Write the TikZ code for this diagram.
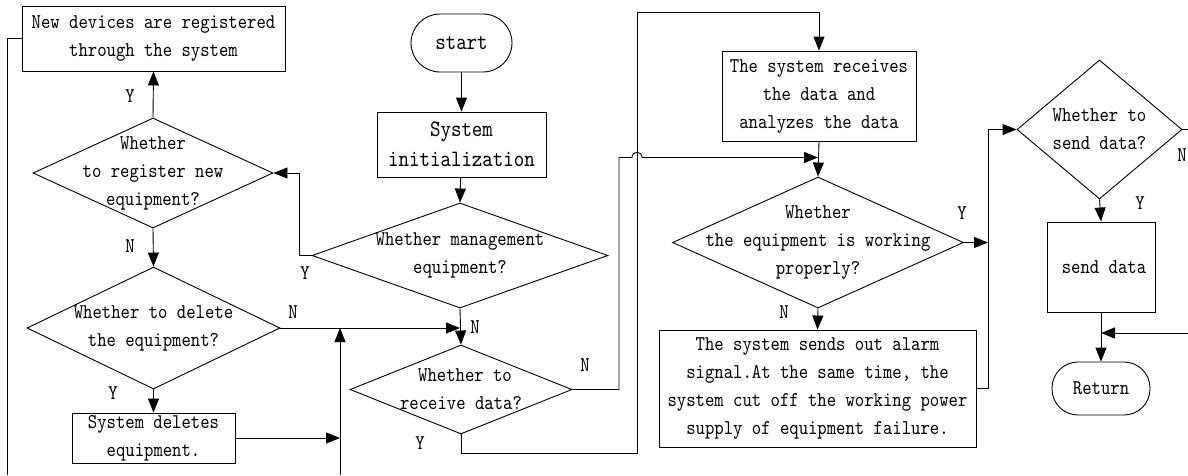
\documentclass[tikz,border=0pt]{standalone}
\usepackage{fontspec}
\newfontfamily\tfont{lmmono10-regular.otf}[FakeStretch=0.85]
\usetikzlibrary{shapes.geometric,arrows.meta}
\begin{document}
\begin{tikzpicture}[x=1pt,y=-1pt,
  every node/.style={font=\tfont\fontsize{21}{28}\selectfont},
  big/.style={font=\tfont\fontsize{23.5}{30}\selectfont},
  box/.style={draw, rectangle, inner sep=0pt, align=center, line width=0.9pt},
  term/.style={draw, rectangle, inner sep=0pt, align=center, line width=0.9pt},
  dia/.style={draw, diamond, inner sep=0pt, line width=0.9pt},
  lbl/.style={inner sep=0pt},
  arr/.style={line width=0.9pt, -{Triangle[length=14pt,width=11pt]}},
  conn/.style={line width=0.9pt}]
\useasboundingbox (0,0) rectangle (1188,475);

% boxes and terminals
\node[term, big, rounded corners=29pt, minimum width=101pt, minimum height=58pt] (start) at (461.5,43) {start};
\node[box, big, minimum width=169pt, minimum height=65pt] (init) at (461.5,144.5) {System\\initialization};
\node[box, minimum width=263pt, minimum height=65pt] (reg) at (153.5,38.5) {New devices are registered\\through the system};
\node[box, minimum width=163pt, minimum height=50pt] (del) at (153.5,438) {System deletes\\equipment.};
\node[box, minimum width=194pt, minimum height=90pt] (recv) at (819,96) {The system receives\\the data and\\analyzes the data};
\node[box, minimum width=317pt, minimum height=117pt] (alarm) at (817.5,388.5) {The system sends out alarm\\signal.At the same time, the\\system cut off the working power\\supply of equipment failure.};
\node[box, minimum width=108pt, minimum height=90pt] (send) at (1101,267) {\hspace{6pt}send data};
\node[term, rounded corners=26pt, minimum width=98pt, minimum height=53pt] (ret) at (1101,388.5) {Return};

% decisions
\node[dia, minimum width=240pt, minimum height=110pt,
      label={[align=center]center:{Whether\\to register new\\equipment?}}] (d1) at (153,173) {};
\node[dia, minimum width=253pt, minimum height=122pt,
      label={[align=center]center:{Whether to delete\\the equipment?}}] (d2) at (153.5,328) {};
\node[dia, minimum width=296pt, minimum height=105pt,
      label={[align=center]center:{Whether management\\equipment?}}] (d3) at (460,255.5) {};
\node[dia, minimum width=222pt, minimum height=89pt,
      label={[align=center]center:{\hspace{8pt}Whether to\\receive data?}}] (d4) at (461,389.5) {};
\node[dia, minimum width=291pt, minimum height=131pt,
      label={[align=center]center:{Whether\\the equipment is working\\properly?}}] (d5) at (818,242.5) {};
\node[dia, minimum width=165pt, minimum height=139pt,
      label={[align=center]center:{Whether to\\send data?}}] (d6) at (1099.5,129.5) {};

% free ends
\coordinate (lEdge) at (7,475);
\coordinate (upBot) at (340,475);
\coordinate (rEdge1) at (1188,129.5);
\coordinate (rEdge2) at (1188,333);

% connectors
\draw[arr] (start) -- (init);
\draw[arr] (init) -- (d3.north);
\draw[arr] (d3.west) -- ++(-12,0) |- (d1.east);
\draw[arr] (d1.north) -- (reg.south);
\draw[conn] (reg.west) -| (lEdge);
\draw[arr] (d1.south) -- (d2.north);
\draw[arr] (d2.south) -- (del.north);
\draw[arr] (d2.east) -- (d2.east -| d3.south);
\draw[arr] (del.east) -- (del.east -| upBot);
\draw[arr] (upBot) -- (upBot |- d2.east);
\draw[arr] (d3.south) -- (d4.north);
\draw[arr] (d4.east) -- (619,389.5) -- (619,157.5) -- (632,157.5)
   .. controls (632,150.5) and (642,150.5) .. (642,157.5) -- (818,157.5);
\draw[arr] (d4.south) |- (637,453) -- (637,12) -| (recv.north);
\draw[arr] (recv.south) -- (d5.north);
\draw[arr] (d5.east) -- (988,242.5);
\draw[arr] (d5.south) -- (alarm.north);
\draw[arr] (alarm.east) -- (988,388.5) |- (d6.west);
\draw[conn] (d6.east) -- (rEdge1);
\draw[arr] (d6.south) -- (send.north);
\draw[arr] (send.south) -- (ret.north);
\draw[arr] (rEdge2) -- (rEdge2 -| send.south);

% Y / N labels
\node[lbl] (y1) at (130,96) {Y};
\node[lbl] (n1) at (130,246) {N};
\node[lbl] (y2) at (305,273) {Y};
\node[lbl] (n2) at (293,312) {N};
\node[lbl] (y3) at (113,393) {Y};
\node[lbl] (n3) at (475,327) {N};
\node[lbl] (n4) at (585,365) {N};
\node[lbl] (y4) at (420,443) {Y};
\node[lbl] (y5) at (962,213) {Y};
\node[lbl] (n5) at (784,312) {N};
\node[lbl] (n6) at (1182,155) {N};
\node[lbl] (y6) at (1140,203) {Y};
\end{tikzpicture}
\end{document}
